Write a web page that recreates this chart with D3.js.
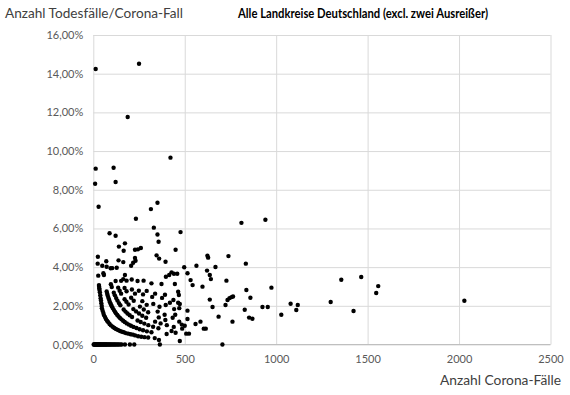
<!DOCTYPE html>
<html>
<head>
<meta charset="utf-8">
<script src="https://cdn.jsdelivr.net/npm/d3@7"></script>
<style>
body { margin: 0; background: #fff; }
svg { font-family: Lato, "Open Sans", sans-serif; }
</style>
</head>
<body>
<script>
/* tick values of both axes */
var xTicks = [0, 500, 1000, 1500, 2000, 2500];
var yTicks = [0, 2, 4, 6, 8, 10, 12, 14, 16];

/* Landkreise without any death: only the number of cases */
var zeroRate = [2, 5, 8, 11, 14, 17, 20, 23, 26, 29, 32, 35, 38, 42, 46, 50, 54, 58, 62, 66, 70, 74, 79,
                84, 89, 94, 100, 106, 112, 118, 124, 131, 138, 146, 155, 173, 200, 224, 364, 706];

/* [cases, deaths per case in %] */
var topPoints = [[13, 14.24], [250, 14.51], [188, 11.76], [422, 9.66], [13, 9.09], [111, 9.14],
                 [10, 8.31], [122, 8.40], [29, 7.12], [315, 7.00], [351, 7.33], [233, 6.50],
                 [331, 6.04], [351, 5.69], [357, 5.31], [477, 5.81], [450, 4.90], [89, 5.75],
                 [122, 5.62], [140, 5.06], [173, 5.23], [166, 4.85], [228, 4.90], [244, 4.92],
                 [260, 4.99], [346, 4.61], [360, 4.44], [395, 4.28], [25, 4.54], [24, 4.18],
                 [49, 4.07], [71, 4.30], [95, 3.94], [104, 3.95], [138, 4.35], [164, 4.26],
                 [207, 4.07], [218, 4.23], [228, 4.47], [231, 4.33], [810, 6.29], [941, 6.45]];

var midPoints = [[27, 3.56], [55, 3.68], [58, 3.59], [73, 4.02], [128, 3.97], [173, 3.59], [164, 3.38],
                 [397, 3.50], [415, 3.59], [428, 3.73], [441, 3.66], [459, 3.66], [373, 3.13], [446, 3.13],
                 [464, 2.73], [468, 2.56], [419, 2.16], [464, 2.16], [473, 2.09], [515, 1.75],
                 [401, 0.54], [450, 0.61], [359, 0.23], [473, 0.18], [470, 1.18]];

var rightPoints = [[624, 4.59], [628, 4.49], [739, 4.57], [834, 4.18], [668, 4.01], [564, 4.07],
                   [497, 3.99], [515, 3.68], [622, 3.82], [637, 3.59], [643, 3.38], [532, 3.33],
                   [543, 3.07], [597, 2.99], [728, 3.30], [974, 2.94], [837, 2.82], [859, 2.42],
                   [734, 2.30], [745, 2.40], [756, 2.45], [764, 2.48], [723, 2.04], [652, 1.94],
                   [637, 2.32], [685, 1.44], [761, 1.18], [828, 1.80], [852, 1.39], [870, 1.33],
                   [925, 1.94], [954, 1.94], [1028, 1.54], [586, 1.18], [559, 1.06], [604, 0.82],
                   [615, 0.82], [515, 1.32], [500, 0.97], [508, 0.56], [523, 0.56],
                   [1079, 2.11], [1110, 1.78], [1118, 2.04], [1298, 2.20], [1356, 3.35], [1423, 1.73],
                   [1465, 3.49], [1547, 2.66], [1558, 3.02], [2029, 2.26]];

/* the dense fans near the origin: one, two, three ... deaths */
var band1 = [[31, 3.07], [32, 2.98], [33, 2.90], [34, 2.82], [36, 2.70], [38, 2.55], [40, 2.39],
             [42, 2.27], [44, 2.13], [46, 1.99], [47, 1.87], [51, 1.75], [55, 1.63], [58, 1.52],
             [64, 1.42], [69, 1.32], [75, 1.23], [82, 1.15], [89, 1.06], [96, 0.99], [106, 0.92],
             [115, 0.85], [124, 0.80], [135, 0.75], [146, 0.70], [157, 0.66], [167, 0.63],
             [178, 0.59], [191, 0.56], [204, 0.53], [217, 0.51], [229, 0.47], [245, 0.43],
             [262, 0.40], [280, 0.38], [300, 0.36], [336, 0.33]];
var band2 = [[73, 2.74], [76, 2.62], [79, 2.52], [83, 2.41], [87, 2.30], [91, 2.19], [96, 2.08],
             [101, 1.98], [106, 1.89], [112, 1.79], [118, 1.70], [124, 1.61], [131, 1.53], [138, 1.45],
             [146, 1.37], [154, 1.30], [163, 1.23], [172, 1.16], [183, 1.09], [194, 1.03], [206, 0.97],
             [220, 0.91], [236, 0.85], [253, 0.79], [272, 0.74], [293, 0.68], [318, 0.63]];
var band3 = [[96, 3.12], [101, 2.97], [112, 2.68], [118, 2.54], [125, 2.40], [132, 2.27],
             [140, 2.14], [148, 2.03], [166, 1.81], [176, 1.70], [187, 1.60], [199, 1.51],
             [212, 1.42], [242, 1.24], [259, 1.16], [279, 1.08], [301, 1.00], [327, 0.92],
             [356, 0.84], [428, 0.70]];
var band4 = [[122, 3.28], [136, 2.94], [144, 2.78], [152, 2.63], [171, 2.34],
             [181, 2.21], [193, 2.07], [219, 1.83], [234, 1.71], [250, 1.60], [268, 1.49],
             [289, 1.38], [338, 1.18], [368, 1.09], [402, 1.00], [440, 0.91], [486, 0.82]];
var band5 = [[152, 3.29], [171, 2.92], [182, 2.75], [207, 2.42], [221, 2.26],
             [255, 1.96], [276, 1.81], [300, 1.67], [358, 1.40], [394, 1.27], [484, 1.03]];
var band6 = [[182, 3.30], [211, 2.84], [228, 2.63], [268, 2.24], [292, 2.05],
             [352, 1.70], [390, 1.54], [434, 1.38]];
var band7 = [[210, 3.36], [249, 2.78], [272, 2.59], [328, 2.10], [362, 1.95], [448, 1.54]];
var band8 = [[242, 3.28], [292, 2.77], [322, 2.46], [396, 2.04], [442, 1.83]];
var band9 = [[275, 3.30], [338, 2.63], [376, 2.41], [470, 1.88]];
var band10 = [[318, 3.16], [392, 2.57], [438, 2.30]];

var width = 570;   // size of the svg
var height = 395;
var plot = {left: 93.3, right: 550.5, top: 35, bottom: 344.5}; // plot area in pixels
var dotRadius = 2.2;

var svg = d3.select("body")
            .append("svg")
            .attr("width", width)
            .attr("height", height);

var xScale = d3.scaleLinear().domain([0, 2500]).range([plot.left, plot.right]);
var yScale = d3.scaleLinear().domain([0, 16]).range([plot.bottom, plot.top]);

/* horizontal gridlines with the percent labels */
var yAxis = d3.axisLeft(yScale)
              .tickValues(yTicks)
              .tickSize(-(plot.right - plot.left))
              .tickPadding(10)
              .tickFormat(function(d) { return d.toFixed(2).replace(".", ",") + "%"; });

svg.append("g")
    .attr("transform", "translate(" + plot.left + ",0)")
    .call(yAxis)
    .call(function(g) { g.select(".domain").remove(); })
    .call(function(g) { g.selectAll(".tick line").attr("stroke", "#d9d9d9"); })
    .call(function(g) {
        g.selectAll(".tick text")
         .attr("fill", "#595959")
         .style("font-size", "11px")
         .style("font-family", "Lato, sans-serif");
    });

/* vertical gridlines with the case labels */
var xAxis = d3.axisBottom(xScale)
              .tickValues(xTicks)
              .tickSize(-(plot.bottom - plot.top))
              .tickPadding(11)
              .tickFormat(d3.format("d"));

svg.append("g")
    .attr("transform", "translate(0," + plot.bottom + ")")
    .call(xAxis)
    .call(function(g) { g.select(".domain").remove(); })
    .call(function(g) { g.selectAll(".tick line").attr("stroke", "#d9d9d9"); })
    .call(function(g) {
        g.selectAll(".tick text")
         .attr("fill", "#595959")
         .style("font-size", "11px")
         .style("font-family", "Lato, sans-serif");
    });

/* axis line at 0% */
svg.append("line")
    .attr("x1", plot.left).attr("x2", plot.right)
    .attr("y1", yScale(0)).attr("y2", yScale(0))
    .attr("stroke", "#bfbfbf");

/* all points */
var allPoints = zeroRate.map(function(c) { return [c, 0]; })
    .concat(topPoints, midPoints, rightPoints, band1, band2, band3, band4, band5,
            band6, band7, band8, band9, band10);

svg.selectAll("circle")
    .data(allPoints)
    .enter()
    .append("circle")
    .attr("cx", function(d) { return xScale(d[0]); })
    .attr("cy", function(d) { return yScale(d[1]); })
    .attr("r", dotRadius)
    .attr("fill", "#000");

/* titles */
svg.append("text")
    .attr("x", 5)
    .attr("y", 18)
    .attr("textLength", 178)
    .attr("lengthAdjust", "spacingAndGlyphs")
    .style("font-size", "13.5px")
    .attr("fill", "#404040")
    .text("Anzahl Todesfälle/Corona-Fall");

svg.append("text")
    .attr("x", 238)
    .attr("y", 18)
    .attr("textLength", 250)
    .attr("lengthAdjust", "spacingAndGlyphs")
    .style("font-size", "13.5px")
    .style("font-weight", "bold")
    .attr("fill", "#000")
    .text("Alle Landkreise Deutschland (excl. zwei Ausreißer)");

svg.append("text")
    .attr("x", 440)
    .attr("y", 385)
    .attr("textLength", 121)
    .attr("lengthAdjust", "spacingAndGlyphs")
    .style("font-size", "13.5px")
    .attr("fill", "#404040")
    .text("Anzahl Corona-Fälle");
</script>
</body>
</html>
